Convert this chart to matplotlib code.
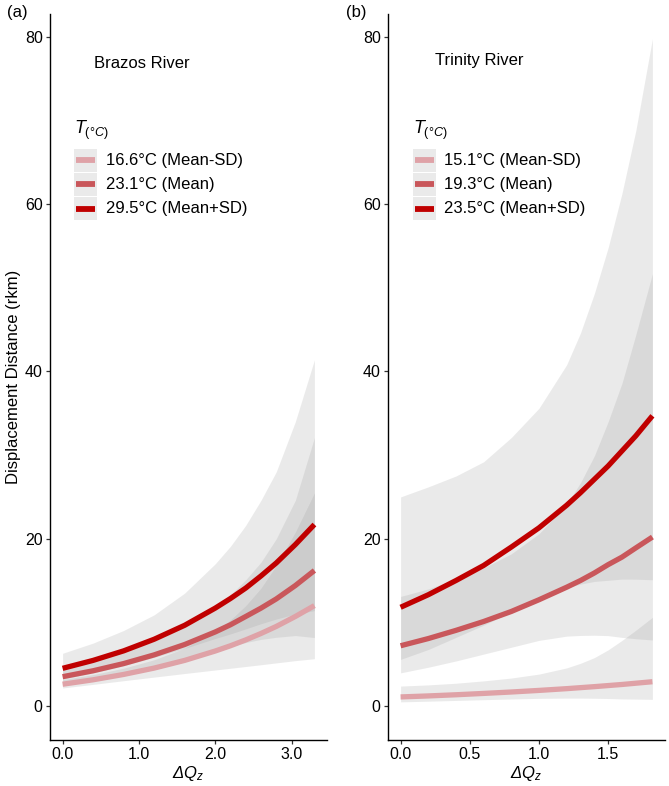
import matplotlib
matplotlib.use('Agg')
import matplotlib.pyplot as plt
from matplotlib.patches import Rectangle
from matplotlib.lines import Line2D

plt.rcParams['font.family'] = ['Liberation Sans', 'DejaVu Sans']
plt.rcParams['mathtext.fontset'] = 'custom'
plt.rcParams['mathtext.rm'] = 'Liberation Sans'
plt.rcParams['mathtext.it'] = 'Liberation Sans:italic'

# ---------------- data ----------------
# (a) Brazos River
brazos_x = [0.0, 0.4, 0.8, 1.2, 1.6, 2.0, 2.2, 2.4, 2.6, 2.8, 3.05, 3.3]
brazos_low = [2.6, 3.13, 3.77, 4.53, 5.45, 6.57, 7.20, 7.90, 8.67, 9.51, 10.7, 12.0]
brazos_low_lo = [2.15, 2.58, 3.02, 3.45, 3.88, 4.30, 4.51, 4.72, 4.93, 5.15, 5.42, 5.65]
brazos_low_hi = [3.15, 3.76, 4.52, 5.53, 6.92, 8.94, 10.3, 12.0, 14.1, 16.8, 20.8, 25.5]
brazos_mean = [3.5, 4.21, 5.07, 6.11, 7.35, 8.85, 9.71, 10.7, 11.7, 12.8, 14.4, 16.2]
brazos_mean_lo = [2.69, 3.29, 3.99, 4.81, 5.70, 6.65, 7.09, 7.59, 7.96, 8.21, 8.42, 8.18]
brazos_mean_hi = [4.55, 5.39, 6.44, 7.76, 9.48, 11.8, 13.3, 15.1, 17.2, 20.0, 24.6, 32.1]
brazos_high = [4.5, 5.45, 6.59, 7.98, 9.65, 11.7, 12.85, 14.1, 15.55, 17.1, 19.3, 21.7]
brazos_high_lo = [3.21, 3.95, 4.81, 5.82, 6.89, 8.07, 8.62, 9.22, 9.84, 10.4, 11.0, 11.4]
brazos_high_hi = [6.3, 7.52, 9.03, 10.9, 13.5, 17.0, 19.1, 21.6, 24.6, 28.0, 34.0, 41.4]
brazos_labels = ['16.6°C (Mean-SD)', '23.1°C (Mean)', '29.5°C (Mean+SD)']

# (b) Trinity River
trinity_x = [0.0, 0.2, 0.4, 0.6, 0.8, 1.0, 1.2, 1.3, 1.4, 1.5, 1.6, 1.7, 1.82]
trinity_low = [1.08, 1.20, 1.34, 1.50, 1.67, 1.86, 2.07, 2.19, 2.31, 2.44, 2.57, 2.72, 2.9]
trinity_low_lo = [0.49, 0.57, 0.66, 0.75, 0.835, 0.91, 0.94, 0.94, 0.92, 0.89, 0.84, 0.82, 0.79]
trinity_low_hi = [2.38, 2.52, 2.72, 3.0, 3.34, 3.81, 4.55, 5.10, 5.78, 6.71, 7.84, 9.06, 10.6]
trinity_mean = [7.2, 8.06, 9.04, 10.1, 11.3, 12.7, 14.2, 15.0, 15.9, 16.9, 17.8, 18.9, 20.2]
trinity_mean_lo = [3.96, 4.63, 5.38, 6.20, 7.02, 7.84, 8.35, 8.43, 8.46, 8.41, 8.20, 8.04, 7.89]
trinity_mean_hi = [13.1, 14.0, 15.2, 16.5, 18.2, 20.6, 24.1, 26.7, 29.9, 34.0, 38.6, 44.4, 51.7]
trinity_high = [11.8, 13.3, 15.0, 16.8, 19.0, 21.3, 24.0, 25.5, 27.1, 28.7, 30.5, 32.3, 34.7]
trinity_high_lo = [5.57, 6.75, 8.20, 9.66, 11.24, 12.75, 14.12, 14.57, 14.89, 15.03, 15.17, 15.16, 15.09]
trinity_high_hi = [25.0, 26.2, 27.5, 29.2, 32.1, 35.6, 40.8, 44.6, 49.3, 54.8, 61.3, 68.8, 79.8]
trinity_labels = ['15.1°C (Mean-SD)', '19.3°C (Mean)', '23.5°C (Mean+SD)']

line_colors = ['#DFA2A7', '#C9575B', '#C00000']
band_color = '#999999'
band_alpha = 0.2

W, H = 669, 786
fig = plt.figure(figsize=(W / 100, H / 100), dpi=100)


def fx(px):
    return px / W


def fy(py):
    return 1 - py / H


def make_axes(left_px, xticks, xticklabels, xlim):
    ax = fig.add_axes([fx(left_px), fy(740), 277 / W, 726 / H])
    ax.set_xlim(*xlim)
    ax.set_ylim(-4.07, 82.75)
    for s in ['top', 'right']:
        ax.spines[s].set_visible(False)
    for s in ['left', 'bottom']:
        ax.spines[s].set_linewidth(1.0)
        ax.spines[s].set_color('black')
    ax.set_yticks([0, 20, 40, 60, 80])
    ax.set_xticks(xticks)
    ax.set_xticklabels(xticklabels)
    ax.tick_params(direction='out', length=2.8, width=0.9, colors='#333333',
                   labelcolor='black', labelsize=11.5, pad=2.5)
    ax.set_xlabel('Δ$Q_z$', fontsize=12, fontstyle='italic', labelpad=1)
    return ax


def draw_panel(ax, x, lines, los, his):
    for lo, hi in zip(los, his):
        ax.fill_between(x, lo, hi, color=band_color, alpha=band_alpha, lw=0)
    for y, c in zip(lines, line_colors):
        ax.plot(x, y, color=c, lw=3.8, solid_capstyle='butt', solid_joinstyle='round')


axa = make_axes(50, [0, 1, 2, 3], ['0.0', '1.0', '2.0', '3.0'], (-0.165, 3.465))
draw_panel(axa, brazos_x,
           [brazos_low, brazos_mean, brazos_high],
           [brazos_low_lo, brazos_mean_lo, brazos_high_lo],
           [brazos_low_hi, brazos_mean_hi, brazos_high_hi])
axa.set_ylabel('Displacement Distance (rkm)', fontsize=12, labelpad=3)

axb = make_axes(388, [0, 0.5, 1.0, 1.5], ['0.0', '0.5', '1.0', '1.5'], (-0.091, 1.911))
draw_panel(axb, trinity_x,
           [trinity_low, trinity_mean, trinity_high],
           [trinity_low_lo, trinity_mean_lo, trinity_high_lo],
           [trinity_low_hi, trinity_mean_hi, trinity_high_hi])


def legend(key_left, text_left, river, river_x, river_y, labels):
    fig.text(fx(river_x), fy(river_y), river, fontsize=12, va='center', ha='left')
    fig.text(fx(key_left), fy(130), r'$\mathit{T}_{\mathit{(°C)}}$', fontsize=13,
             va='center', ha='left')
    ys = [160, 184, 208.5]
    for yc, lab, c in zip(ys, labels, line_colors):
        fig.patches.append(Rectangle((fx(key_left), fy(yc + 11.5)), 23 / W, 23 / H,
                                     transform=fig.transFigure, facecolor=band_color,
                                     alpha=band_alpha, edgecolor='none'))
        fig.lines.append(Line2D([fx(key_left + 2), fx(key_left + 21)], [fy(yc), fy(yc)],
                                transform=fig.transFigure, color=c, lw=4.2,
                                solid_capstyle='butt'))
        fig.text(fx(text_left), fy(yc), lab, fontsize=12, va='center', ha='left')


legend(74, 106, 'Brazos River', 94, 63, brazos_labels)
legend(413, 444, 'Trinity River', 435, 60, trinity_labels)

fig.text(fx(7), fy(12), '(a)', fontsize=12, va='center', ha='left')
fig.text(fx(346), fy(12), '(b)', fontsize=12, va='center', ha='left')

fig.savefig('out.png', dpi=100)
